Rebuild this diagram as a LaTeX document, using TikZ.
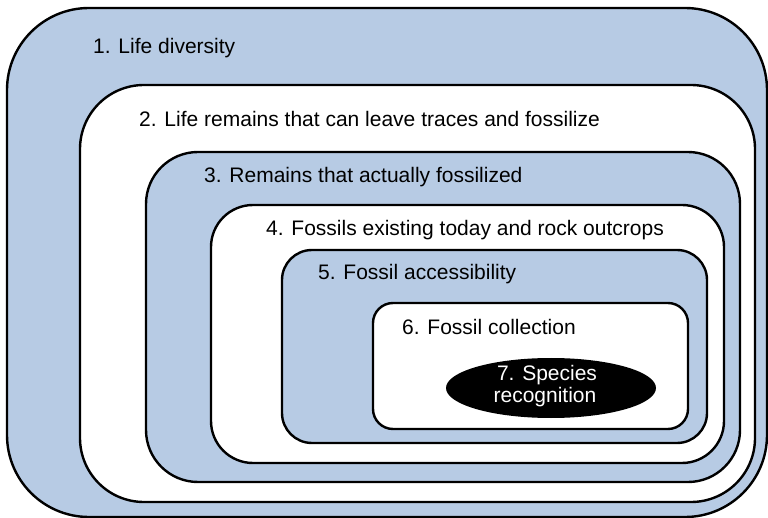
\documentclass[tikz,border=0pt]{standalone}
\usepackage{fontspec}
\setmainfont{Liberation Sans}
\usetikzlibrary{shapes.geometric}
\definecolor{boxblue}{RGB}{183,203,228}
\begin{document}
\begin{tikzpicture}[x=1pt,y=-1pt,
  lvl/.style={draw=black,line width=2.4pt},
  lab/.style={anchor=base west,inner sep=0pt,font=\fontsize{21}{23}\selectfont}]
\useasboundingbox (0,0) rectangle (768,518);
\path[lvl,fill=boxblue,rounded corners=82pt] (7,8) rectangle (767,517);
\path[lvl,fill=white,rounded corners=64pt] (80,85) rectangle (755,502);
\path[lvl,fill=boxblue,rounded corners=52pt] (146,152) rectangle (740,482);
\path[lvl,fill=white,rounded corners=42pt] (211,205) rectangle (724,463);
\path[lvl,fill=boxblue,rounded corners=30pt] (282,250) rectangle (707,443);
\path[lvl,fill=white,rounded corners=20pt] (373,303) rectangle (688,429);
\node[ellipse,fill=black,minimum width=210pt,minimum height=60pt,inner sep=0pt] (e) at (551,388) {};
\node[lab] (t1) at (93,54) {1. Life diversity};
\node[lab] (t2) at (139,127) {2. Life remains that can leave traces and fossilize};
\node[lab] (t3) at (204,183) {3. Remains that actually fossilized};
\node[lab] (t4) at (266,236) {4. Fossils existing today and rock outcrops};
\node[lab] (t5) at (318,280) {5. Fossil accessibility};
\node[lab] (t6) at (402,335) {6. Fossil collection};
\node[lab,anchor=base,text=white] (t7a) at (547,380) {7. Species};
\node[lab,anchor=base,text=white] (t7b) at (545,402) {recognition};
\end{tikzpicture}
\end{document}
